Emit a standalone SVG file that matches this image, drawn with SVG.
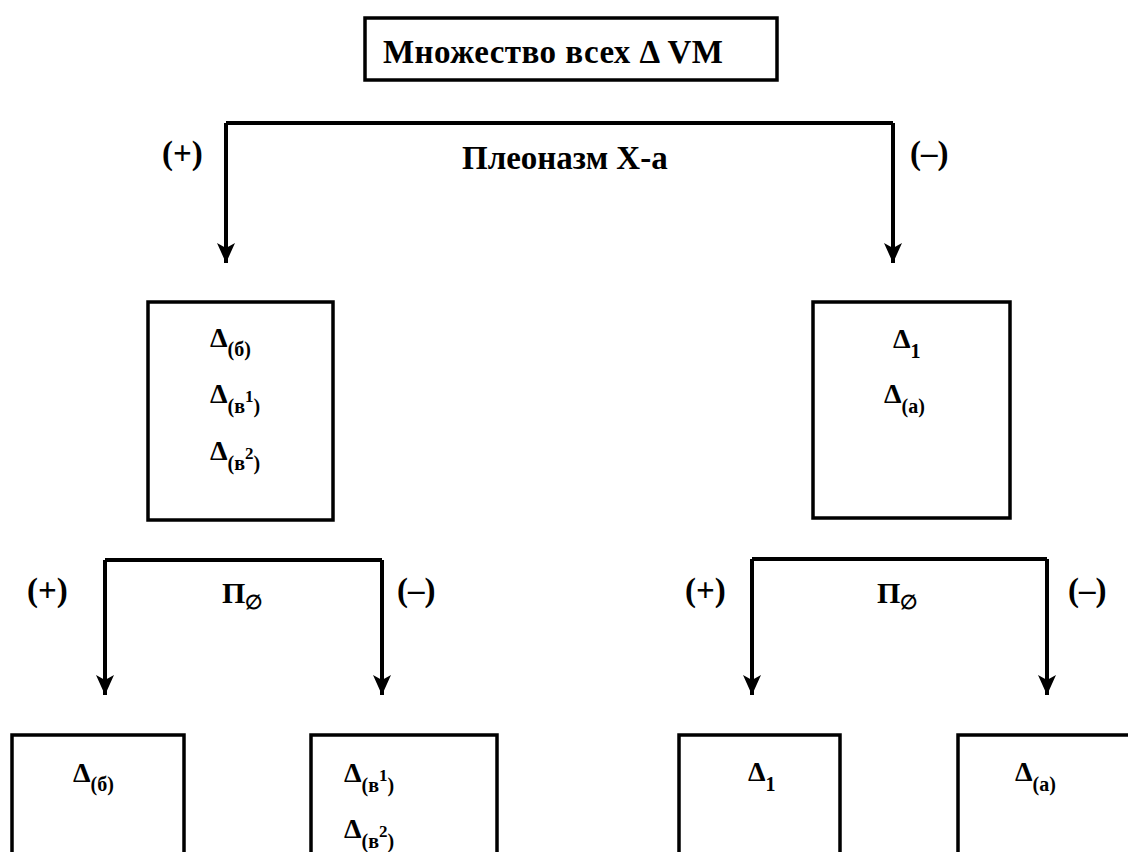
<svg xmlns="http://www.w3.org/2000/svg" width="1128" height="852" viewBox="0 0 1128 852">
<defs>
<style>
.box{fill:none;stroke:#000;stroke-width:3.5}
.conn{fill:none;stroke:#000;stroke-width:4}
text{font-family:"Liberation Serif","DejaVu Serif",serif;font-weight:bold;fill:#000}
.lbl{font-size:33px}
.pi{font-size:30px}
.d{font-size:28px}
.sub{font-size:20px}
.sup{font-size:17px}
</style>
<marker id="arr" markerUnits="userSpaceOnUse" markerWidth="22" markerHeight="22" viewBox="0 0 22 22" refX="20" refY="11" orient="auto">
<path d="M0,2 L20,11 L0,20 L5,11 z" fill="#000"/>
</marker>
</defs>
<rect width="1128" height="852" fill="#fff"/>
<g id="connectors">
<path class="conn" d="M226,123 H893"/>
<path class="conn" d="M226,123 V263" marker-end="url(#arr)"/>
<path class="conn" d="M893,123 V263" marker-end="url(#arr)"/>
<path class="conn" d="M105,560 H382"/>
<path class="conn" d="M105,560 V695" marker-end="url(#arr)"/>
<path class="conn" d="M382,560 V695" marker-end="url(#arr)"/>
<path class="conn" d="M752,559 H1047"/>
<path class="conn" d="M752,559 V695" marker-end="url(#arr)"/>
<path class="conn" d="M1047,559 V695" marker-end="url(#arr)"/>
<text class="lbl" x="162" y="164">(+)</text>
<text class="lbl" x="462" y="169">Плеоназм Х-а</text>
<text class="lbl" x="910" y="164">(–)</text>
<text class="lbl" x="27" y="601">(+)</text>
<text class="pi" x="222" y="603">Π<tspan class="sub" dy="6">∅</tspan></text>
<text class="lbl" x="397" y="601">(–)</text>
<text class="lbl" x="685" y="601">(+)</text>
<text class="pi" x="877" y="603">Π<tspan class="sub" dy="6">∅</tspan></text>
<text class="lbl" x="1068" y="601">(–)</text>
</g>
<g id="root">
<rect class="box" x="365" y="18" width="412" height="62"/>
<text class="lbl" x="383" y="63" textLength="340" lengthAdjust="spacing">Множество всех Δ VM</text>
</g>
<g id="plus-set">
<rect class="box" x="148" y="302" width="185" height="218"/>
<text class="d" x="210" y="347">Δ<tspan class="sub" dy="9">(б)</tspan></text>
<text class="d" x="210" y="403">Δ<tspan class="sub" dy="10">(в</tspan><tspan class="sup" dy="-11">1</tspan><tspan class="sub" dy="11">)</tspan></text>
<text class="d" x="210" y="460">Δ<tspan class="sub" dy="10">(в</tspan><tspan class="sup" dy="-11">2</tspan><tspan class="sub" dy="11">)</tspan></text>
</g>
<g id="minus-set">
<rect class="box" x="813" y="302" width="197" height="216"/>
<text class="d" x="893" y="348">Δ<tspan class="sub" dy="10">1</tspan></text>
<text class="d" x="884" y="403">Δ<tspan class="sub" dy="10">(а)</tspan></text>
</g>
<g id="leaf-b">
<rect class="box" x="12" y="735" width="172" height="130"/>
<text class="d" x="73" y="782">Δ<tspan class="sub" dy="9">(б)</tspan></text>
</g>
<g id="leaf-v">
<rect class="box" x="311" y="735" width="186" height="130"/>
<text class="d" x="344" y="782">Δ<tspan class="sub" dy="10">(в</tspan><tspan class="sup" dy="-11">1</tspan><tspan class="sub" dy="11">)</tspan></text>
<text class="d" x="344" y="838">Δ<tspan class="sub" dy="10">(в</tspan><tspan class="sup" dy="-11">2</tspan><tspan class="sub" dy="11">)</tspan></text>
</g>
<g id="leaf-1">
<rect class="box" x="679" y="735" width="161" height="130"/>
<text class="d" x="748" y="781">Δ<tspan class="sub" dy="10">1</tspan></text>
</g>
<g id="leaf-a">
<rect class="box" x="958" y="735" width="190" height="130"/>
<text class="d" x="1015" y="781">Δ<tspan class="sub" dy="10">(а)</tspan></text>
</g>
</svg>
